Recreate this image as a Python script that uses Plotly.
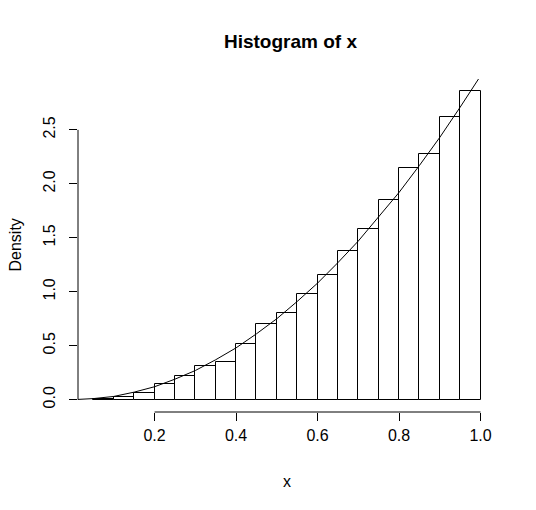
import plotly.graph_objects as go

# histogram breaks (bin edges) and density per bin
breaks = [0.05, 0.10, 0.15, 0.20, 0.25, 0.30, 0.35, 0.40, 0.45, 0.50,
          0.55, 0.60, 0.65, 0.70, 0.75, 0.80, 0.85, 0.90, 0.95, 1.00]
density = [0.01, 0.025, 0.065, 0.148, 0.222, 0.315, 0.352, 0.513, 0.704, 0.806,
           0.982, 1.152, 1.373, 1.585, 1.853, 2.150, 2.280, 2.623, 2.857]

# overlaid density curve
curve_x = [0.00, 0.05, 0.10, 0.15, 0.20, 0.25, 0.30, 0.35, 0.40, 0.45, 0.50,
           0.55, 0.60, 0.65, 0.70, 0.75, 0.80, 0.85, 0.90, 0.95, 1.00]
curve_y = [0.00, 0.01, 0.03, 0.07, 0.12, 0.19, 0.27, 0.37, 0.48, 0.61, 0.75,
           0.91, 1.08, 1.27, 1.47, 1.69, 1.92, 2.17, 2.43, 2.71, 3.00]

x_ticks = [0.2, 0.4, 0.6, 0.8, 1.0]
y_ticks = [0.0, 0.5, 1.0, 1.5, 2.0, 2.5]

FONT = "Liberation Sans, Arial, sans-serif"

centers = [(a + b) / 2 for a, b in zip(breaks[:-1], breaks[1:])]
widths = [b - a for a, b in zip(breaks[:-1], breaks[1:])]

# R-style 4% padding of the plotting region
xspan = breaks[-1] - breaks[0]
xr = [breaks[0] - 0.04 * xspan, breaks[-1] + 0.04 * xspan]
ymax = max(density)
yr = [-0.04 * ymax, 1.04 * ymax]

fig = go.Figure()
fig.add_trace(go.Bar(
    x=centers,
    y=density,
    width=widths,
    marker=dict(color="white", line=dict(color="black", width=1)),
    showlegend=False,
    hoverinfo="skip",
))
fig.add_trace(go.Scatter(
    x=curve_x,
    y=curve_y,
    mode="lines",
    line=dict(color="black", width=1),
    showlegend=False,
    hoverinfo="skip",
))

# axis lines only span the tick range, like base R graphics
fig.add_shape(type="line", xref="x", yref="paper",
              x0=x_ticks[0], x1=x_ticks[-1], y0=0, y1=0,
              line=dict(color="black", width=1))
fig.add_shape(type="line", xref="paper", yref="y",
              x0=0, x1=0, y0=y_ticks[0], y1=y_ticks[-1],
              line=dict(color="black", width=1))

fig.add_annotation(text="x", xref="paper", yref="paper", x=0.5, y=0,
                   yshift=-69, showarrow=False, yanchor="middle",
                   font=dict(family=FONT, size=16, color="black"))
fig.add_annotation(text="Density", xref="paper", yref="paper", x=0, y=0.5,
                   xshift=-63, showarrow=False, textangle=-90,
                   xanchor="center", yanchor="middle",
                   font=dict(family=FONT, size=16, color="black"))

# page body keeps an 8px margin, so the figure is 8px smaller than the window
fig.update_layout(
    width=528,
    height=502,
    margin=dict(l=70, r=40, t=71, b=98),
    paper_bgcolor="white",
    plot_bgcolor="white",
    bargap=0,
    title=dict(
        text="Histogram of x",
        x=0.535, xanchor="center",
        y=1 - 33 / 502, yanchor="middle",
        font=dict(family=FONT, size=19, color="black", weight="bold"),
    ),
    xaxis=dict(
        range=xr,
        tickvals=x_ticks,
        ticktext=[f"{v:.1f}" for v in x_ticks],
        ticks="outside", ticklen=8, tickwidth=1, tickcolor="black",
        ticklabelstandoff=1,
        showgrid=False, zeroline=False, showline=False,
        tickfont=dict(family=FONT, size=16, color="black"),
    ),
    yaxis=dict(
        range=yr,
        tickvals=y_ticks,
        ticktext=[f"{v:.1f}" for v in y_ticks],
        ticks="outside", ticklen=8, tickwidth=1, tickcolor="black",
        tickangle=-90,
        ticklabelstandoff=8,
        showgrid=False, zeroline=False, showline=False,
        tickfont=dict(family=FONT, size=16, color="black"),
    ),
)

fig.write_html("out.html")
